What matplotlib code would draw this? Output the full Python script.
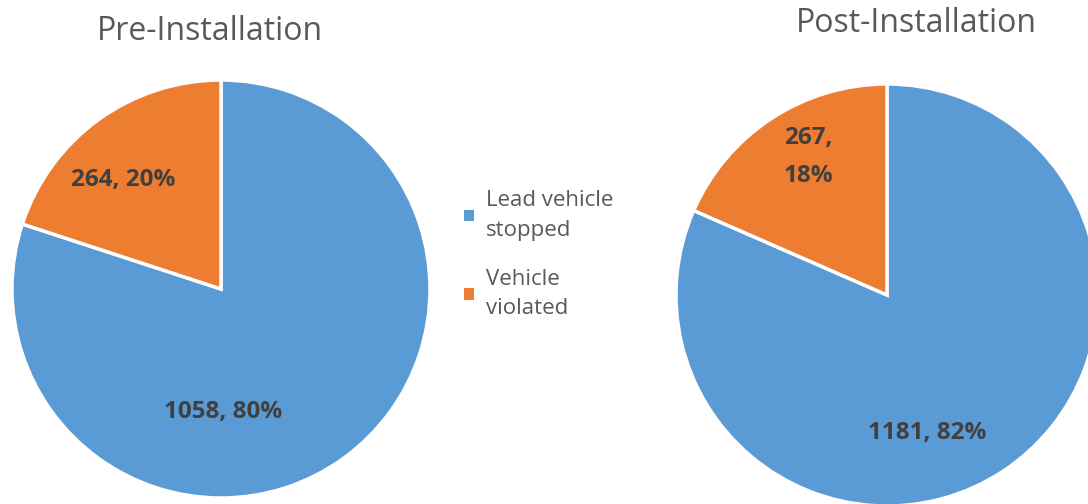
import matplotlib
matplotlib.use('Agg')
import matplotlib.pyplot as plt

categories = ['Lead vehicle\nstopped', 'Vehicle\nviolated']
titles = ['Pre-Installation', 'Post-Installation']
pre_counts = [1058, 264]
post_counts = [1181, 267]
pre_labels = ['1058, 80%', '264, 20%']
post_labels = ['1181, 82%', '267,\n18%']

colors = ['#5B9BD5', '#ED7D31']
W, H = 1088, 504

plt.rcParams['font.family'] = ['Open Sans', 'DejaVu Sans']

fig = plt.figure(figsize=(W / 100, H / 100), dpi=100)
ax = fig.add_axes([0, 0, 1, 1])
ax.set_xlim(0, W)
ax.set_ylim(0, H)
ax.set_aspect('equal')
ax.axis('off')


def px(x, y):
    # pixel coords (top-left origin) -> data coords
    return x, H - y


pies = [
    (pre_counts, pre_labels, titles[0], (221, 289), 209,
     [(223, 412), (123, 180)], (210, 32)),
    (post_counts, post_labels, titles[1], (887, 295), 211,
     [(927, 433), (808, 157)], (916, 24)),
]

wedges_first = None
for counts, labels, title, c, r, lab_pos, tpos in pies:
    wedges, _ = ax.pie(counts, colors=colors, startangle=90, counterclock=False,
                       center=px(*c), radius=r,
                       wedgeprops=dict(edgecolor='white', linewidth=2.5))
    if wedges_first is None:
        wedges_first = wedges
    for lab, pos in zip(labels, lab_pos):
        ax.text(*px(*pos), lab, ha='center', va='center', fontsize=17.5,
                fontweight='bold', color='#404040', linespacing=1.75)
    ax.text(*px(*tpos), title, ha='center', va='center', fontsize=23,
            color='#595959')

ax.set_xlim(0, W)
ax.set_ylim(0, H)

leg = ax.legend(wedges_first, categories, loc='upper left',
                bbox_to_anchor=(444 / W, 1 - 170 / H), frameon=False,
                labelcolor='#595959', handlelength=0.45,
                handleheight=0.45, handletextpad=0.55, labelspacing=1.25,
                prop={'size': 16, 'family': ['Open Sans', 'DejaVu Sans']})
for t in leg.get_texts():
    t.set_linespacing(1.55)
for h in leg.legend_handles:
    h.set_edgecolor('none')

fig.savefig('out.png', dpi=100)
